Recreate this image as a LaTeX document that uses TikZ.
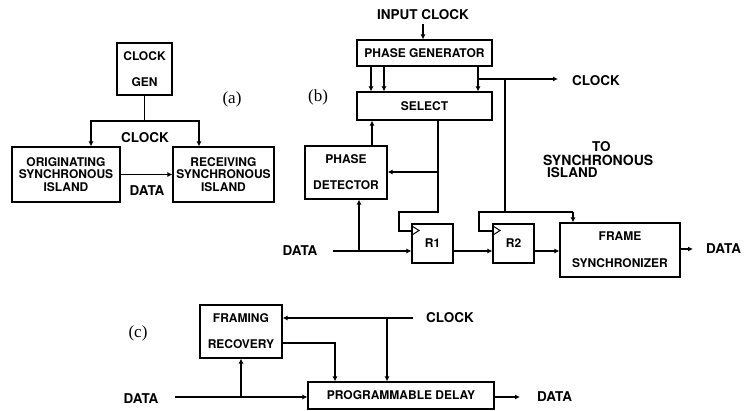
\documentclass[tikz,border=0pt]{standalone}
\usepackage{fontspec}
\setmainfont{Liberation Serif}
\setsansfont{TeX Gyre Heros}
\usetikzlibrary{arrows.meta}
\newcommand\boxfont{\sffamily\bfseries\fontsize{12}{12.5}\selectfont}
\newcommand\lblfont{\sffamily\bfseries\fontsize{13.5}{13}\selectfont}
\newcommand\tagfont{\rmfamily\fontsize{17}{17}\selectfont}
\tikzset{
  box/.style={draw, line width=1.2pt, inner sep=0pt, align=center, font=\boxfont},
  ln/.style={line width=1.2pt},
  arr/.style={line width=1.2pt, -{Latex[length=5pt,width=5pt]}},
  lbl/.style={font=\lblfont, inner sep=0pt, align=left},
  tag/.style={font=\tagfont, inner sep=0pt},
  clk/.style={line width=1pt},
}
\begin{document}
\begin{tikzpicture}[x=1pt,y=-1pt]
\useasboundingbox (0,0) rectangle (744,410);
% ---------------- (a)
\node[box, minimum width=55pt, minimum height=52pt] (cg) at (144.5,69) {CLOCK\\[13.5pt]GEN};
\node[box, minimum width=108pt, minimum height=55pt] (orig) at (66,174.5) {ORIGINATING\\SYNCHRONOUS\\ISLAND};
\node[box, minimum width=101pt, minimum height=55pt] (recv) at (223.5,174.5) {RECEIVING\\SYNCHRONOUS\\ISLAND};
\node[tag] (ta) at (232,99) {(a)};
\coordinate (aj) at (144.5,121);
\draw[ln] (cg.south) -- (aj);
\draw[arr] (aj) -| ([xshift=25pt]orig.north);
\draw[arr] (aj) -| ([xshift=-24.5pt]recv.north);
\node[lbl] (aclk) at (145,138) {CLOCK};
\draw[arr] (orig.east) -- (recv.west);
\node[lbl] (adata) at (147,191) {DATA};
% ---------------- (b)
\node[lbl] (inclk) at (423,15) {INPUT CLOCK};
\node[box, minimum width=135pt, minimum height=26pt] (pg) at (424.5,53) {PHASE GENERATOR};
\node[box, minimum width=135pt, minimum height=28pt] (sel) at (424.5,106) {SELECT};
\draw[arr] (inclk.south) ++(0,4) -- (inclk.south |- pg.north);
\draw[arr] (pg.south -| 371,0) -- (sel.north -| 371,0);
\draw[arr] (pg.south -| 384,0) -- (sel.north -| 384,0);
\draw[arr] (pg.south -| 478,0) -- (sel.north -| 478,0);
\node[tag] (tb) at (318,97) {(b)};
\coordinate (clkj) at (478,79);
\coordinate (clkv) at (505,79);
\coordinate (bclkend) at (558,79);
\draw[arr] (clkj) -- (bclkend);
\node[lbl, anchor=west] (bclk) at (572,81) {CLOCK};
\node[box, minimum width=82pt, minimum height=53pt] (pd) at (346,172.5) {PHASE\\[13.5pt]DETECTOR};
\node[box, minimum width=41pt, minimum height=39pt] (r1) at (432.5,243.5) {R1};
\node[box, minimum width=41pt, minimum height=39pt] (r2) at (513.5,243.5) {R2};
\node[box, minimum width=120pt, minimum height=54pt] (fs) at (620,250) {FRAME\\[14.5pt]SYNCHRONIZER};
% clock triangles
\draw[clk] (412,226) -- (419,230.5) -- (412,235);
\draw[clk] (493,226) -- (500,230.5) -- (493,235);
% R1 clock from select
\coordinate (sv) at (438,120);
\coordinate (sj) at (438,172);
\coordinate (s1) at (438,212);
\coordinate (s2) at (399,212);
\coordinate (s3) at (399,231);
\draw[ln] (sv) -- (s1) -- (s2) -- (s3) -- (s3 -| r1.west);
\draw[arr] (sj) -- (sj -| pd.east);
\draw[arr] (pd.north -| 372,0) -- (sel.south -| 372,0);
% R2 clock and FS clock
\coordinate (c1) at (505,212);
\coordinate (c2) at (479,212);
\coordinate (c3) at (479,231);
\coordinate (c4) at (573,212);
\draw[ln] (clkv) -- (c1);
\draw[ln] (c4) -- (c2) -- (c3) -- (c3 -| r2.west);
\draw[arr] (c4) -- (c4 |- fs.north);
% data path
\node[lbl] (bdin) at (300,251) {DATA};
\coordinate (bin) at (333,251);
\coordinate (bbr) at (359,251);
\draw[arr] (bin) -- (bin -| r1.west);
\draw[arr] (bbr) -- (bbr |- pd.south);
\draw[arr] (r1.east |- bin) -- (r2.west |- bin);
\draw[arr] (r2.east |- bin) -- (fs.west |- bin);
\coordinate (bout) at (693,249);
\draw[arr] (fs.east |- bout) -- (bout);
\node[lbl, anchor=west] (bdout) at (706,249) {DATA};
\node[lbl, anchor=west] (to1) at (592,147) {TO};
\node[lbl, anchor=west, font=\sffamily\bfseries\fontsize{14}{13}\selectfont] (to2) at (543,160) {SYNCHRONOUS};
\node[lbl, anchor=west] (to3) at (547,173) {ISLAND};
% ---------------- (c)
\node[tag] (tc) at (138,333) {(c)};
\node[box, minimum width=82pt, minimum height=53pt] (fr) at (241,331.5) {FRAMING\\[13.5pt]RECOVERY};
\node[box, minimum width=186pt, minimum height=27pt] (pdl) at (401,395.5) {PROGRAMMABLE DELAY};
\coordinate (cclk) at (413,318);
\coordinate (cv) at (387,318);
\draw[arr] (cclk) -- (cclk -| fr.east);
\node[lbl, anchor=west] (cclkl) at (426,318) {CLOCK};
\draw[arr] (cv) -- (cv |- pdl.north);
\coordinate (fo) at (335,343);
\draw[arr] (fo -| fr.east) -- (fo) -- (fo |- pdl.north);
\node[lbl] (cdin) at (141,399) {DATA};
\coordinate (cin) at (175,397);
\coordinate (cbr) at (241,397);
\draw[arr] (cin) -- (cin -| pdl.west);
\draw[arr] (cbr) -- (cbr |- fr.south);
\coordinate (cout) at (520,397);
\draw[arr] (cout -| pdl.east) -- (cout);
\node[lbl, anchor=west] (cdout) at (537,397) {DATA};
\end{tikzpicture}
\end{document}
